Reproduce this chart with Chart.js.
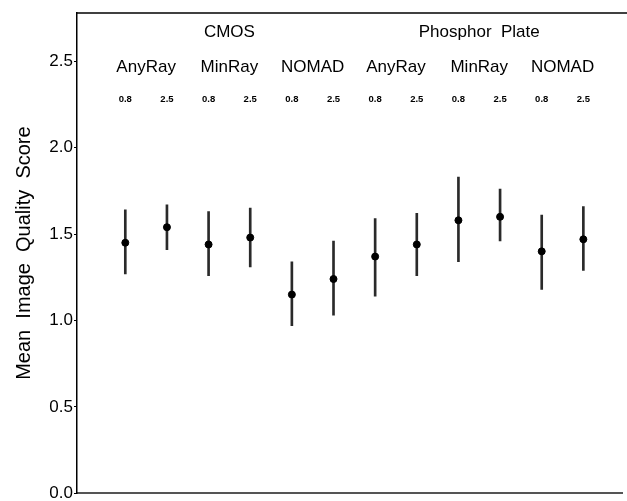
<!DOCTYPE html>
<html>
<head>
<meta charset="utf-8">
<script src="https://cdn.jsdelivr.net/npm/chart.js@4.4.1/dist/chart.umd.min.js"></script>
<style>
html,body{margin:0;padding:0;background:#fff;}
#wrap{width:627px;height:501px;}
</style>
</head>
<body>
<div id="wrap"><canvas id="c" width="627" height="501"></canvas></div>
<script>
// ---- data ----
const groups = ['CMOS', 'Phosphor Plate'];
const brands = ['AnyRay', 'MinRay', 'NOMAD', 'AnyRay', 'MinRay', 'NOMAD'];
const doses = ['0.8', '2.5', '0.8', '2.5', '0.8', '2.5', '0.8', '2.5', '0.8', '2.5', '0.8', '2.5'];
const positions = [1, 2, 3, 4, 5, 6, 7, 8, 9, 10, 11, 12];
const means = [1.45, 1.54, 1.44, 1.48, 1.15, 1.24, 1.37, 1.44, 1.58, 1.60, 1.40, 1.47];
const lower = [1.27, 1.41, 1.26, 1.31, 0.97, 1.03, 1.14, 1.26, 1.34, 1.46, 1.18, 1.29];
const upper = [1.64, 1.67, 1.63, 1.65, 1.34, 1.46, 1.59, 1.62, 1.83, 1.76, 1.61, 1.66];
const yTickValues = [0, 0.5, 1.0, 1.5, 2.0, 2.5];
const yTitle = 'Mean  Image  Quality  Score';

const FONT = '"Liberation Sans", Arial, Helvetica, sans-serif';

const labelPlugin = {
  id: 'headerLabels',
  afterDraw(chart) {
    const ctx = chart.ctx;
    const xs = chart.scales.x;
    ctx.save();
    ctx.fillStyle = '#000';
    ctx.textAlign = 'center';
    ctx.textBaseline = 'middle';
    // group labels
    ctx.font = '17px ' + FONT;
    groups.forEach((g, gi) => {
      const a = xs.getPixelForValue(positions[gi * 6]);
      const b = xs.getPixelForValue(positions[gi * 6 + 5]);
      ctx.fillText(g.replace(' ', '  '), (a + b) / 2, 32);
    });
    // brand labels
    brands.forEach((br, bi) => {
      const a = xs.getPixelForValue(positions[bi * 2]);
      const b = xs.getPixelForValue(positions[bi * 2 + 1]);
      ctx.fillText(br, (a + b) / 2, 67);
    });
    // dose labels
    ctx.font = 'bold 9.5px ' + FONT;
    doses.forEach((d, i) => {
      ctx.fillText(d, xs.getPixelForValue(positions[i]), 99);
    });
    // top frame line
    const ca = chart.chartArea;
    ctx.strokeStyle = '#000';
    ctx.lineWidth = 1.5;
    ctx.beginPath();
    ctx.moveTo(ca.left, ca.top);
    ctx.lineTo(chart.width, ca.top);
    ctx.stroke();
    ctx.restore();
  }
};

new Chart(document.getElementById('c'), {
  data: {
    datasets: [
      {
        type: 'bar',
        data: positions.map((p, i) => ({ x: p, y: [lower[i], upper[i]] })),
        backgroundColor: '#2a2a2a',
        borderWidth: 0,
        barThickness: 2,
        order: 2
      },
      {
        type: 'scatter',
        data: positions.map((p, i) => ({ x: p, y: means[i] })),
        backgroundColor: '#000',
        borderColor: '#000',
        pointRadius: 3.5,
        pointHoverRadius: 3.5,
        order: 1
      }
    ]
  },
  plugins: [labelPlugin],
  options: {
    responsive: false,
    animation: false,
    events: [],
    layout: { padding: { top: 13, bottom: 7, left: 0, right: 0 } },
    plugins: { legend: { display: false }, tooltip: { enabled: false } },
    scales: {
      x: {
        type: 'linear',
        offset: false,
        min: -0.16,
        max: 12.94,
        display: true,
        grid: { display: false, offset: false },
        ticks: { display: false },
        border: { display: true, color: '#555', width: 2 },
        afterFit(s) { s.height = 0; }
      },
      y: {
        type: 'linear',
        min: 0,
        max: 2.78,
        afterBuildTicks(s) { s.ticks = yTickValues.map(v => ({ value: v })); },
        ticks: {
          color: '#000',
          font: { family: FONT, size: 17, lineHeight: 0.8 },
          padding: 1,
          callback: v => v.toFixed(1)
        },
        grid: { display: true, drawOnChartArea: false, drawTicks: true, tickLength: 3, color: '#000', lineWidth: 1 },
        border: { display: true, color: '#000', width: 1.5 },
        title: {
          display: true,
          text: yTitle,
          color: '#000',
          font: { family: FONT, size: 20 },
          padding: { top: 12, bottom: 0 }
        },
        afterFit(s) { s.width = 77; }
      }
    }
  }
});
</script>
</body>
</html>
